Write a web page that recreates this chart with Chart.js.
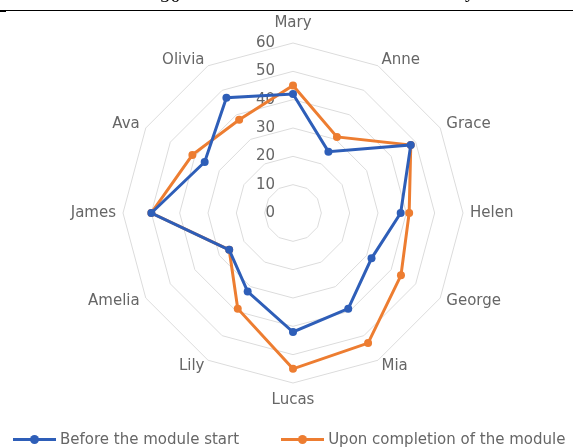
<!DOCTYPE html>
<html>
<head>
<meta charset="utf-8">
<script src="https://cdn.jsdelivr.net/npm/chart.js@4/dist/chart.umd.min.js"></script>
<style>
  html, body { margin: 0; padding: 0; background: #fff; }
  #wrap { position: relative; width: 573px; height: 448px; overflow: hidden; }
  #rule { position: absolute; left: 0; top: 10px; width: 573px; height: 1px; background: #000; }
  #rule::before { content: ''; position: absolute; left: 0; top: 0; width: 6px; height: 2px; background: #000; }
  .cut { position: absolute; font: 20px "Liberation Serif", serif; line-height: 20px; color: #000; }
  #legend { position: absolute; left: 13px; top: 430px; display: flex; gap: 42px;
            font: 15px "DejaVu Sans", sans-serif; color: #666; white-space: nowrap; }
  #legend .item { display: flex; align-items: center; }
  #legend .key { position: relative; width: 43px; height: 3px; margin-right: 4px; }
  #legend .key b { position: absolute; left: 17px; top: -3px; width: 9px; height: 9px; border-radius: 50%; }
</style>
</head>
<body>
<div id="wrap">
  <div class="cut" style="left:160px; top:-15px;">56</div>
  <div class="cut" style="left:465px; top:-20px;">y</div>
  <div id="rule"></div>
  <canvas id="radar" width="573" height="448"></canvas>
  <div id="legend"></div>
</div>
<script>
// students and their scores before / after the module
const categories = ['Mary', 'Anne', 'Grace', 'Helen', 'George', 'Mia', 'Lucas', 'Lily', 'Amelia', 'James', 'Ava', 'Olivia'];
const beforeStart = [42, 25, 48, 38, 32, 39, 42, 32, 26, 50, 36, 47];
const afterModule = [45, 31, 48, 41, 44, 53, 55, 39, 26, 50, 41, 38];
const seriesNames = ['Before the module start', 'Upon completion of the module'];
const seriesColors = ['#2E5EB8', '#ED7D31'];
const tickMin = 0, tickMax = 60, tickStep = 10;

const textFont = '15px "DejaVu Sans"';
const textColor = '#666';

// value labels sit left of the vertical axis, names round the outer ring
const radarText = {
    id: 'radarText',
    beforeDatasetsDraw(chart) {
        const scale = chart.scales.r;
        const ctx = chart.ctx;
        ctx.save();
        ctx.font = textFont;
        ctx.fillStyle = textColor;

        ctx.textAlign = 'right';
        ctx.textBaseline = 'middle';
        scale.ticks.forEach(t => {
            const y = scale.yCenter - scale.getDistanceFromCenterForValue(t.value);
            ctx.fillText(String(t.value), scale.xCenter - 18, y);
        });

        categories.forEach((name, i) => {
            const a = scale.getIndexAngle(i);
            const p = scale.getPointPosition(i, scale.drawingArea + 7);
            const s = Math.sin(a), c = Math.cos(a);
            let y = p.y;
            if (Math.abs(s) < 0.01) {
                ctx.textAlign = 'center';
                y += c > 0 ? -13 : 10;
            } else {
                ctx.textAlign = s > 0 ? 'left' : 'right';
            }
            ctx.fillText(name, p.x, y);
        });
        ctx.restore();
    }
};

function buildLegend(chart) {
    const box = document.getElementById('legend');
    box.innerHTML = '';
    chart.data.datasets.forEach(ds => {
        const item = document.createElement('div');
        item.className = 'item';
        const key = document.createElement('span');
        key.className = 'key';
        key.style.background = ds.borderColor;
        const dot = document.createElement('b');
        dot.style.background = ds.borderColor;
        key.appendChild(dot);
        item.appendChild(key);
        item.appendChild(document.createTextNode(ds.label));
        box.appendChild(item);
    });
}

const chart = new Chart(document.getElementById('radar'), {
    type: 'radar',
    data: {
        labels: categories,
        datasets: [beforeStart, afterModule].map((values, k) => ({
            label: seriesNames[k],
            data: values,
            borderColor: seriesColors[k],
            backgroundColor: seriesColors[k],
            pointBackgroundColor: seriesColors[k],
            pointBorderWidth: 0,
            pointRadius: 4,
            borderWidth: 3,
            fill: false,
            tension: 0,
            clip: false
        }))
    },
    options: {
        responsive: false,
        animation: false,
        layout: { padding: { left: 123, right: 110, top: 43, bottom: 65 } },
        scales: {
            r: {
                min: tickMin,
                max: tickMax,
                ticks: { stepSize: tickStep, display: false },
                pointLabels: { display: false },
                angleLines: { display: false },
                grid: { color: '#dcdcdc', lineWidth: 1 }
            }
        },
        plugins: {
            legend: { display: false },
            tooltip: { enabled: false }
        }
    },
    plugins: [radarText]
});

buildLegend(chart);
</script>
</body>
</html>
